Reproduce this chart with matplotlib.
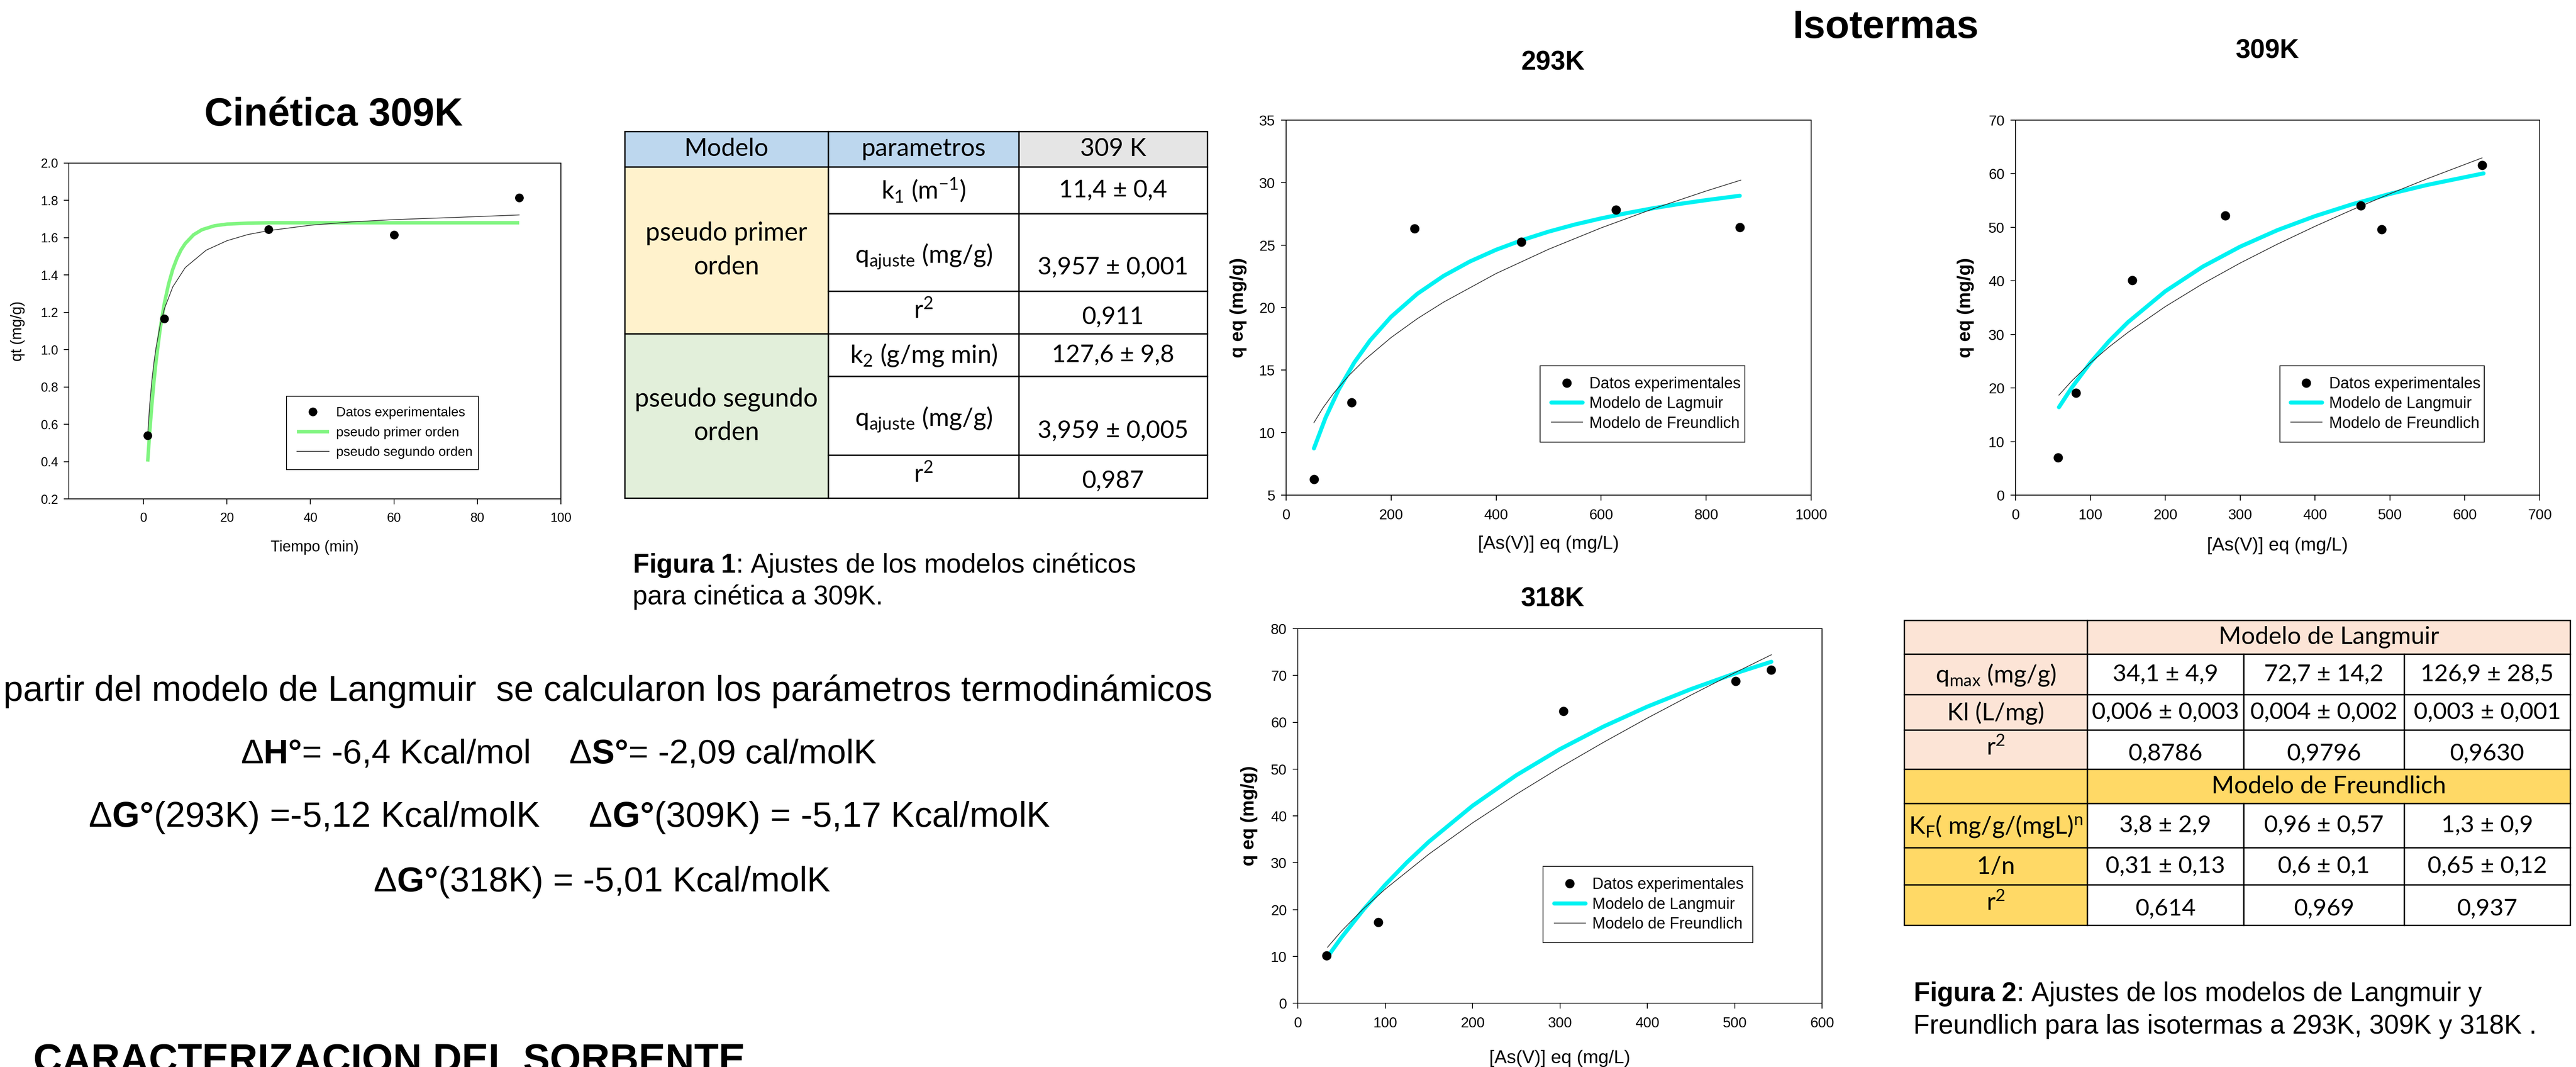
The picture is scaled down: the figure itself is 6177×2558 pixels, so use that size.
import matplotlib
matplotlib.use('Agg')
import matplotlib.pyplot as plt
from matplotlib import font_manager as fm
from matplotlib.patches import Rectangle

# ------------------------------------------------------------------ data
# Kinetics 309K
kin_t = [1, 5, 30, 60, 90]
kin_q = [0.54, 1.165, 1.645, 1.615, 1.815]
pfo_t = [1, 1.5, 2, 2.5, 3, 4, 5, 6, 7, 8, 9, 10, 12, 14, 17, 20, 25, 30, 40, 60, 90]
pfo_q = [0.40, 0.563, 0.705, 0.829, 0.937, 1.114, 1.249, 1.351, 1.430, 1.489, 1.535,
         1.569, 1.616, 1.643, 1.664, 1.673, 1.678, 1.68, 1.68, 1.68, 1.68]
pso_t = [1, 1.5, 2, 2.5, 3, 4, 5, 7, 10, 15, 20, 25, 30, 40, 50, 60, 75, 90]
pso_q = [0.546, 0.710, 0.834, 0.932, 1.011, 1.132, 1.219, 1.336, 1.44, 1.533, 1.584,
         1.617, 1.638, 1.667, 1.685, 1.697, 1.709, 1.722]

# Isotherm 293K
x293 = [53, 125, 245, 448, 628, 864]
q293 = [6.28, 12.41, 26.31, 25.24, 27.82, 26.44]
lang293_x = [53, 75, 100, 130, 160, 200, 250, 300, 350, 400, 450, 500, 550, 600, 650, 700, 750, 800, 864]
lang293_q = [8.74, 11.18, 13.43, 15.62, 17.38, 19.27, 21.11, 22.54, 23.69, 24.63, 25.41,
             26.08, 26.65, 27.14, 27.57, 27.96, 28.30, 28.60, 28.95]
freu293_x = [53, 70, 90, 120, 150, 200, 250, 300, 400, 500, 600, 700, 800, 866]
freu293_q = [10.80, 11.97, 13.13, 14.59, 15.84, 17.61, 19.12, 20.44, 22.73, 24.67, 26.38,
             27.92, 29.33, 30.20]

# Isotherm 309K
x309 = [57, 81, 156, 280, 461, 489, 623]
q309 = [7.0, 19.1, 40.1, 52.2, 54.0, 49.6, 61.6]
lang309_x = [58, 75, 100, 125, 150, 200, 250, 300, 350, 400, 450, 500, 550, 625]
lang309_q = [16.41, 20.05, 24.73, 28.76, 32.26, 38.05, 42.65, 46.38, 49.48, 52.08, 54.31,
             56.23, 57.91, 60.06]
freu309_x = [58, 75, 100, 125, 150, 200, 250, 300, 350, 400, 450, 500, 550, 623]
freu309_q = [18.67, 21.30, 24.68, 27.67, 30.36, 35.19, 39.46, 43.32, 46.87, 50.18, 53.29,
             56.25, 59.07, 62.95]

# Isotherm 318K
x318 = [33, 92, 304, 501, 542]
q318 = [10.2, 17.3, 62.4, 68.8, 71.2]
lang318_x = [34, 50, 75, 100, 125, 150, 200, 250, 300, 350, 400, 450, 500, 542]
lang318_q = [9.89, 14.03, 19.94, 25.27, 30.09, 34.48, 42.16, 48.67, 54.25, 59.09, 63.33,
             67.07, 70.40, 72.92]
freu318_x = [34, 50, 75, 100, 150, 200, 250, 300, 350, 400, 450, 500, 542]
freu318_q = [11.94, 15.40, 20.14, 24.35, 31.83, 38.50, 44.61, 50.33, 55.72, 60.88, 65.80,
             70.55, 74.41]

# Table 1 (kinetics)
t1_header = ['Modelo', 'parametros', '309 K']
t1_models = ['pseudo primer\norden', 'pseudo segundo\norden']
t1_params = [r'k$_1$ (m$^{-1}$)', r'q$_{\mathrm{ajuste}}$ (mg/g)', r'r$^2$',
             r'k$_2$ (g/mg min)', r'q$_{\mathrm{ajuste}}$ (mg/g)', r'r$^2$']
t1_values = ['11,4 ± 0,4', '3,957 ± 0,001', '0,911', '127,6 ± 9,8', '3,959 ± 0,005', '0,987']

# Table 2 (isotherms)
t2_lang_title = 'Modelo de Langmuir'
t2_lang_params = [r'q$_{\mathrm{max}}$ (mg/g)', 'Kl (L/mg)', r'r$^2$']
t2_lang_values = [['34,1 ± 4,9', '72,7 ± 14,2', '126,9 ± 28,5'],
                  ['0,006 ± 0,003', '0,004 ± 0,002', '0,003 ± 0,001'],
                  ['0,8786', '0,9796', '0,9630']]
t2_freu_title = 'Modelo de Freundlich'
t2_freu_params = [r'K$_{\mathrm{F}}$( mg/g/(mgL)$^{\mathrm{n}}$', '1/n', r'r$^2$']
t2_freu_values = [['3,8 ± 2,9', '0,96 ± 0,57', '1,3 ± 0,9'],
                  ['0,31 ± 0,13', '0,6 ± 0,1', '0,65 ± 0,12'],
                  ['0,614', '0,969', '0,937']]

thermo_lines = [
    'partir del modelo de Langmuir  se calcularon los parámetros termodinámicos',
    r'Δ$\mathbf{H°}$= -6,4 Kcal/mol    Δ$\mathbf{S°}$= -2,09 cal/molK',
    r'Δ$\mathbf{G°}$(293K) =-5,12 Kcal/molK     Δ$\mathbf{G°}$(309K) = -5,17 Kcal/molK',
    r'Δ$\mathbf{G°}$(318K) = -5,01 Kcal/molK',
]

# ------------------------------------------------------------------ style
def has_font(name):
    try:
        fm.findfont(fm.FontProperties(family=name), fallback_to_default=False)
        return True
    except Exception:
        return False

SANS = 'Liberation Sans'
NARROW_OK = has_font('Liberation Sans Narrow')
NARROW = 'Liberation Sans Narrow' if NARROW_OK else SANS
TAB = 'Lato'
plt.rcParams['font.family'] = [SANS, 'DejaVu Sans']
plt.rcParams['mathtext.fontset'] = 'custom'
plt.rcParams['mathtext.rm'] = TAB
plt.rcParams['mathtext.it'] = TAB + ':italic'
plt.rcParams['mathtext.bf'] = SANS + ':bold'
plt.rcParams['mathtext.default'] = 'rm'

CYAN = '#00F2F2'
GREEN = '#80F580'
BLUE = '#BDD7EE'
GRAY = '#E5E5E5'
YELLOW = '#FFF2CC'
LGREEN = '#E2EFDA'
SALMON = '#FCE4D6'
GOLD = '#FFD966'

W, H = 6177, 2558
DPI = 100
fig = plt.figure(figsize=(W / DPI, H / DPI), dpi=DPI)
fig.patch.set_facecolor('white')


def axbox(l, t, r, b):
    return [l / W, 1 - b / H, (r - l) / W, (b - t) / H]


bg = fig.add_axes([0, 0, 1, 1], zorder=0)
bg.set_xlim(0, W)
bg.set_ylim(H, 0)
bg.axis('off')


def style_axes(ax, tick_fs, family, padx, pady):
    for s in ax.spines.values():
        s.set_linewidth(1.4)
        s.set_color('black')
    ax.tick_params(direction='out', length=9, width=1.4, top=False, right=False,
                   labelsize=tick_fs)
    ax.tick_params(axis='x', pad=padx)
    ax.tick_params(axis='y', pad=pady)
    for lab in ax.get_xticklabels() + ax.get_yticklabels():
        lab.set_family(family)


# ------------------------------------------------------------------ kinetics plot
ax = fig.add_axes(axbox(165, 391, 1345, 1196), zorder=2)
l_pfo, = ax.plot(pfo_t, pfo_q, color=GREEN, lw=6, solid_capstyle='butt', label='pseudo primer orden')
l_pso, = ax.plot(pso_t, pso_q, color='#333333', lw=1.3, label='pseudo segundo orden')
l_dat, = ax.plot(kin_t, kin_q, 'o', color='black', ms=14, label='Datos experimentales')
ax.set_xlim(-17.9, 100)
ax.set_ylim(0.2, 2.0)
ax.set_xticks([0, 20, 40, 60, 80, 100])
ax.set_yticks([0.2, 0.4, 0.6, 0.8, 1.0, 1.2, 1.4, 1.6, 1.8, 2.0])
ax.set_yticklabels(['%.1f' % v for v in ax.get_yticks()])
style_axes(ax, 22, SANS, 14, 9)
ax.set_xlabel('Tiempo (min)', fontsize=26, va='center')
ax.xaxis.set_label_coords(0.5, -0.145)
ax.set_ylabel('qt (mg/g)', fontsize=26, va='center')
ax.yaxis.set_label_coords(-0.104, 0.5)
leg = ax.legend(handles=[l_dat, l_pfo, l_pso], loc='upper left',
                bbox_to_anchor=(0.442, 0.306 - 0.2, 0.39, 0.2), mode='expand',
                fontsize=23, frameon=True, fancybox=False, edgecolor='black',
                framealpha=1, borderpad=0.8, labelspacing=0.55, handlelength=2.4,
                handletextpad=0.55, numpoints=1, borderaxespad=0)
leg.get_frame().set_linewidth(1.4)
bg.text(800, 276, 'Cinética 309K', fontsize=68, weight='bold', ha='center', va='center')

# ------------------------------------------------------------------ isotherms
ISO_TICK = 28 if NARROW_OK else 25
ISO_LAB = 36 if NARROW_OK else 32
ISO_LEG = 30 if NARROW_OK else 27


def isotherm(box, xd, qd, lx, lq, fx, fq, xlim, xticks, ylim, yticks, lang_label,
             leg_anchor, ylab_x, xlab_y):
    a = fig.add_axes(axbox(*box), zorder=2)
    hl, = a.plot(lx, lq, color=CYAN, lw=7, solid_capstyle='round', label=lang_label)
    hf, = a.plot(fx, fq, color='#333333', lw=1.3, label='Modelo de Freundlich')
    hd, = a.plot(xd, qd, 'o', color='black', ms=15, label='Datos experimentales')
    a.set_xlim(*xlim)
    a.set_ylim(*ylim)
    a.set_xticks(xticks)
    a.set_yticks(yticks)
    style_axes(a, ISO_TICK, NARROW, 14, 10)
    a.set_xlabel('[As(V)] eq (mg/L)', fontsize=ISO_LAB, family=NARROW, va='center')
    a.xaxis.set_label_coords(0.5, xlab_y)
    a.set_ylabel('q eq (mg/g)', fontsize=ISO_LAB, family=NARROW, weight='bold', va='center')
    a.yaxis.set_label_coords(ylab_x, 0.5)
    x0, top, w = leg_anchor
    lg = a.legend(handles=[hd, hl, hf], loc='upper left', bbox_to_anchor=(x0, top - 0.2, w, 0.2),
                  mode='expand', prop={'family': NARROW, 'size': ISO_LEG}, frameon=True,
                  fancybox=False, edgecolor='black', framealpha=1, borderpad=0.7,
                  labelspacing=0.3, handlelength=2.0, handletextpad=0.45, numpoints=1,
                  borderaxespad=0)
    lg.get_frame().set_linewidth(1.4)
    return a


isotherm((3084, 288, 4343, 1187), x293, q293, lang293_x, lang293_q, freu293_x, freu293_q,
         (0, 1000), [0, 200, 400, 600, 800, 1000], (5, 35), [5, 10, 15, 20, 25, 30, 35],
         'Modelo de Lagmuir', (0.484, 0.345, 0.39), -0.091, -0.131)
isotherm((4833, 288, 6090, 1187), x309, q309, lang309_x, lang309_q, freu309_x, freu309_q,
         (0, 700), [0, 100, 200, 300, 400, 500, 600, 700], (0, 70), [0, 10, 20, 30, 40, 50, 60, 70],
         'Modelo de Langmuir', (0.504, 0.345, 0.39), -0.095, -0.135)
isotherm((3112, 1507, 4369, 2405), x318, q318, lang318_x, lang318_q, freu318_x, freu318_q,
         (0, 600), [0, 100, 200, 300, 400, 500, 600], (0, 80), [0, 10, 20, 30, 40, 50, 60, 70, 80],
         'Modelo de Langmuir', (0.468, 0.365, 0.40), -0.093, -0.147)

bg.text(4522, 67, 'Isotermas', fontsize=68, weight='bold', ha='center', va='center')
bg.text(3724, 150, '293K', fontsize=46, weight='bold', ha='center', va='center')
bg.text(5437, 122, '309K', fontsize=46, weight='bold', ha='center', va='center')
bg.text(3723, 1437, '318K', fontsize=46, weight='bold', ha='center', va='center')

# ------------------------------------------------------------------ tables
LW = 2.4
TFS = 42


def cell(x0, y0, x1, y1, fc):
    bg.add_patch(Rectangle((x0, y0), x1 - x0, y1 - y0, facecolor=fc, edgecolor='black',
                           lw=LW, zorder=1))


def ctext(x, y, s, fs=TFS):
    bg.text(x, y, s, fontsize=fs, family=TAB, ha='center', va='center', zorder=3)


# Table 1
T1X = [1498, 1986, 2443, 2895]
T1Y = [315, 400, 512, 698, 800, 902, 1091, 1194]
for i, (txt, fc) in enumerate(zip(t1_header, [BLUE, BLUE, GRAY])):
    cell(T1X[i], T1Y[0], T1X[i + 1], T1Y[1], fc)
    ctext((T1X[i] + T1X[i + 1]) / 2, (T1Y[0] + T1Y[1]) / 2, txt, 43)
for g, (txt, fc) in enumerate(zip(t1_models, [YELLOW, LGREEN])):
    y0, y1 = T1Y[1 + 3 * g], T1Y[4 + 3 * g]
    cell(T1X[0], y0, T1X[1], y1, fc)
    bg.text((T1X[0] + T1X[1]) / 2, (y0 + y1) / 2, txt, fontsize=44, family=TAB,
            ha='center', va='center', linespacing=1.5, zorder=3)
lab_frac = [0.5, 0.55, 0.45, 0.5, 0.55, 0.45]
val_frac = [0.5, 0.69, 0.6, 0.5, 0.69, 0.6]
for r in range(6):
    y0, y1 = T1Y[1 + r], T1Y[2 + r]
    cell(T1X[1], y0, T1X[2], y1, 'white')
    cell(T1X[2], y0, T1X[3], y1, 'white')
    ctext((T1X[1] + T1X[2]) / 2, y0 + lab_frac[r] * (y1 - y0), t1_params[r], 43)
    ctext((T1X[2] + T1X[3]) / 2, y0 + val_frac[r] * (y1 - y0), t1_values[r])

bg.text(1517, 1355, r'$\mathbf{Figura\ 1}$: Ajustes de los modelos cinéticos', fontsize=46,
        ha='left', va='center')
bg.text(1517, 1431, 'para cinética a 309K.', fontsize=46, ha='left', va='center')

# Table 2
T2X = [4566, 5005, 5380, 5765, 6163]
T2Y = [1487, 1568, 1665, 1750, 1844, 1926, 2032, 2121, 2218]
blocks = [(t2_lang_title, t2_lang_params, t2_lang_values, SALMON),
          (t2_freu_title, t2_freu_params, t2_freu_values, GOLD)]
for b, (title, params, values, fc) in enumerate(blocks):
    base = 4 * b
    cell(T2X[0], T2Y[base], T2X[1], T2Y[base + 1], fc)
    cell(T2X[1], T2Y[base], T2X[4], T2Y[base + 1], fc)
    ctext((T2X[1] + T2X[4]) / 2, (T2Y[base] + T2Y[base + 1]) / 2, title)
    for r in range(3):
        y0, y1 = T2Y[base + 1 + r], T2Y[base + 2 + r]
        cell(T2X[0], y0, T2X[1], y1, fc)
        lf = 0.45 if r == 2 else 0.52
        ctext((T2X[0] + T2X[1]) / 2, y0 + lf * (y1 - y0), params[r])
        vf = 0.6 if r == 2 else 0.5
        for c in range(3):
            cell(T2X[1 + c], y0, T2X[2 + c], y1, 'white')
            ctext((T2X[1 + c] + T2X[2 + c]) / 2, y0 + vf * (y1 - y0), values[r][c], 41)

bg.text(4588, 2383, r'$\mathbf{Figura\ 2}$: Ajustes de los modelos de Langmuir y', fontsize=46,
        ha='left', va='center')
bg.text(4588, 2461, 'Freundlich para las isotermas a 293K, 309K y 318K .', fontsize=46,
        ha='left', va='center')

# ------------------------------------------------------------------ thermodynamics text
thermo_pos = [(8, 1658), (577, 1809), (212, 1960), (895, 2115)]
thermo_fs = [61.5, 59, 61, 60.5]
for (x, y), s, fsz in zip(thermo_pos, thermo_lines, thermo_fs):
    bg.text(x, y, s, fontsize=fsz, ha='left', va='center')

bg.text(80, 2500, 'CARACTERIZACION DEL SORBENTE', fontsize=69, weight='bold',
        ha='left', va='top')

fig.savefig('out.png', dpi=DPI, facecolor='white')
